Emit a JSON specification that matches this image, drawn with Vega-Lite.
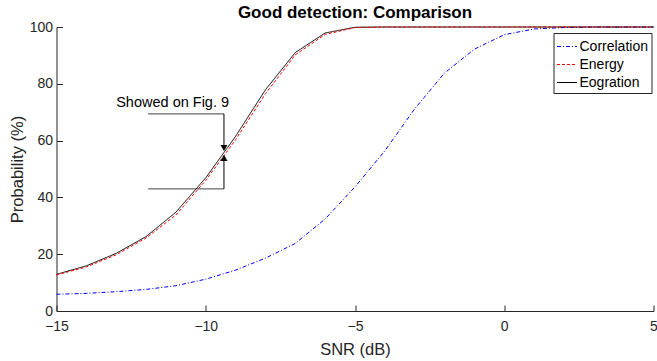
{
  "$schema": "https://vega.github.io/schema/vega-lite/v6.json",
  "autosize": {"type": "none"},
  "width": 597,
  "height": 284,
  "padding": {"left": 56.5, "top": 27, "right": 3.5, "bottom": 50},
  "background": "white",
  "title": {"text": "Good detection: Comparison", "fontSize": 17, "fontWeight": "bold", "font": "Liberation Sans", "color": "#000000", "anchor": "middle", "offset": -2},
  "config": {
    "view": {"stroke": null},
    "font": "Liberation Sans",
    "axis": {"grid": false, "domainColor": "#262626", "tickColor": "#262626", "labelColor": "#262626", "titleColor": "#262626", "labelFont": "Liberation Sans", "titleFont": "Liberation Sans", "labelFontSize": 14, "titleFontSize": 16.5, "titleFontWeight": "normal", "tickSize": -6, "domainWidth": 1, "tickWidth": 1},
    "axisX": {"labelPadding": 14, "titlePadding": 8},
    "axisY": {"labelPadding": 10}
  },
  "datasets": {
    "curves": [
      {"snr": -15, "series": "Correlation", "p": 5.9},
      {"snr": -14, "series": "Correlation", "p": 6.2},
      {"snr": -13, "series": "Correlation", "p": 6.8},
      {"snr": -12, "series": "Correlation", "p": 7.6},
      {"snr": -11, "series": "Correlation", "p": 8.9},
      {"snr": -10, "series": "Correlation", "p": 11.2},
      {"snr": -9, "series": "Correlation", "p": 14.4},
      {"snr": -8, "series": "Correlation", "p": 18.6},
      {"snr": -7, "series": "Correlation", "p": 23.8},
      {"snr": -6, "series": "Correlation", "p": 32.4},
      {"snr": -5, "series": "Correlation", "p": 43.7},
      {"snr": -4, "series": "Correlation", "p": 56.4},
      {"snr": -3, "series": "Correlation", "p": 71.2},
      {"snr": -2, "series": "Correlation", "p": 83.8},
      {"snr": -1, "series": "Correlation", "p": 92.2},
      {"snr": 0, "series": "Correlation", "p": 97.3},
      {"snr": 1, "series": "Correlation", "p": 99.3},
      {"snr": 2, "series": "Correlation", "p": 99.8},
      {"snr": 3, "series": "Correlation", "p": 100},
      {"snr": 4, "series": "Correlation", "p": 100},
      {"snr": 5, "series": "Correlation", "p": 100},
      {"snr": -15, "series": "Eogration", "p": 12.9},
      {"snr": -14, "series": "Eogration", "p": 15.9},
      {"snr": -13, "series": "Eogration", "p": 20.3},
      {"snr": -12, "series": "Eogration", "p": 26.2},
      {"snr": -11, "series": "Eogration", "p": 34.8},
      {"snr": -10, "series": "Eogration", "p": 46.9},
      {"snr": -9, "series": "Eogration", "p": 61.5},
      {"snr": -8, "series": "Eogration", "p": 77.9},
      {"snr": -7, "series": "Eogration", "p": 91.0},
      {"snr": -6, "series": "Eogration", "p": 97.9},
      {"snr": -5, "series": "Eogration", "p": 99.9},
      {"snr": -4, "series": "Eogration", "p": 100},
      {"snr": -3, "series": "Eogration", "p": 100},
      {"snr": -2, "series": "Eogration", "p": 100},
      {"snr": -1, "series": "Eogration", "p": 100},
      {"snr": 0, "series": "Eogration", "p": 100},
      {"snr": 1, "series": "Eogration", "p": 100},
      {"snr": 2, "series": "Eogration", "p": 100},
      {"snr": 3, "series": "Eogration", "p": 100},
      {"snr": 4, "series": "Eogration", "p": 100},
      {"snr": 5, "series": "Eogration", "p": 100},
      {"snr": -15, "series": "Energy", "p": 12.7},
      {"snr": -14, "series": "Energy", "p": 15.5},
      {"snr": -13, "series": "Energy", "p": 19.8},
      {"snr": -12, "series": "Energy", "p": 25.7},
      {"snr": -11, "series": "Energy", "p": 33.8},
      {"snr": -10, "series": "Energy", "p": 46.0},
      {"snr": -9, "series": "Energy", "p": 60.3},
      {"snr": -8, "series": "Energy", "p": 76.5},
      {"snr": -7, "series": "Energy", "p": 90.2},
      {"snr": -6, "series": "Energy", "p": 97.4},
      {"snr": -5, "series": "Energy", "p": 99.8},
      {"snr": -4, "series": "Energy", "p": 100},
      {"snr": -3, "series": "Energy", "p": 100},
      {"snr": -2, "series": "Energy", "p": 100},
      {"snr": -1, "series": "Energy", "p": 100},
      {"snr": 0, "series": "Energy", "p": 100},
      {"snr": 1, "series": "Energy", "p": 100},
      {"snr": 2, "series": "Energy", "p": 100},
      {"snr": 3, "series": "Energy", "p": 100},
      {"snr": 4, "series": "Energy", "p": 100},
      {"snr": 5, "series": "Energy", "p": 100}
    ],
    "hlines": [
      {"snr": -11.93, "snr2": -9.39, "p": 69.4},
      {"snr": -11.93, "snr2": -9.39, "p": 43.0}
    ],
    "vlines": [
      {"snr": -9.39, "p": 69.4, "p2": 57.0},
      {"snr": -9.39, "p": 43.0, "p2": 54.2}
    ],
    "arrows": [
      {"snr": -9.39, "p": 57.4, "dir": "down"},
      {"snr": -9.39, "p": 53.9, "dir": "up"}
    ],
    "labels": [
      {"snr": -13.0, "p": 73.3, "label": "Showed on Fig. 9"}
    ]
  },
  "encoding": {
    "x": {"field": "snr", "type": "quantitative", "scale": {"domain": [-15, 5], "nice": false, "zero": false}, "axis": {"values": [-15, -10, -5, 0, 5], "title": "SNR (dB)", "labelFlush": false, "labelOverlap": false}},
    "y": {"field": "p", "type": "quantitative", "scale": {"domain": [0, 100], "nice": false, "zero": false}, "axis": {"values": [0, 20, 40, 60, 80, 100], "title": "Probability (%)", "labelOverlap": false}}
  },
  "layer": [
    {
      "data": {"name": "curves"},
      "mark": {"type": "line", "strokeWidth": 1},
      "encoding": {
        "color": {"field": "series", "type": "nominal", "scale": {"domain": ["Correlation", "Energy", "Eogration"], "range": ["#0000ff", "#ff0000", "#000000"]},
          "legend": {"title": null, "orient": "none", "legendX": 497, "legendY": 6, "symbolType": "stroke", "symbolSize": 400, "symbolStrokeWidth": 1, "labelFontSize": 14, "labelFont": "Liberation Sans", "labelColor": "#000000", "strokeColor": "#262626", "fillColor": "white", "padding": 3, "rowPadding": 0, "labelOffset": 2,
            "encode": {"symbols": {"update": {"strokeDash": {"signal": "datum.value === 'Correlation' ? [4, 2, 1, 2] : datum.value === 'Energy' ? [3, 2] : [1, 0]"}}}}}},
        "strokeDash": {"field": "series", "type": "nominal", "scale": {"domain": ["Correlation", "Energy", "Eogration"], "range": [[4, 2, 1, 2], [3, 2], [1, 0]]}, "legend": null}
      }
    },
    {
      "data": {"name": "hlines"},
      "mark": {"type": "rule", "color": "#404040", "strokeWidth": 1},
      "encoding": {"x2": {"field": "snr2"}}
    },
    {
      "data": {"name": "vlines"},
      "mark": {"type": "rule", "color": "#000000", "strokeWidth": 1},
      "encoding": {"y2": {"field": "p2"}}
    },
    {
      "data": {"name": "arrows"},
      "mark": {"type": "point", "filled": true, "color": "#000000", "size": 50, "opacity": 1},
      "encoding": {"shape": {"field": "dir", "type": "nominal", "scale": {"domain": ["down", "up"], "range": ["triangle-down", "triangle-up"]}, "legend": null}}
    },
    {
      "data": {"name": "labels"},
      "mark": {"type": "text", "align": "left", "baseline": "middle", "fontSize": 14.5, "font": "Liberation Sans", "color": "#000000"},
      "encoding": {"text": {"field": "label"}}
    }
  ]
}
